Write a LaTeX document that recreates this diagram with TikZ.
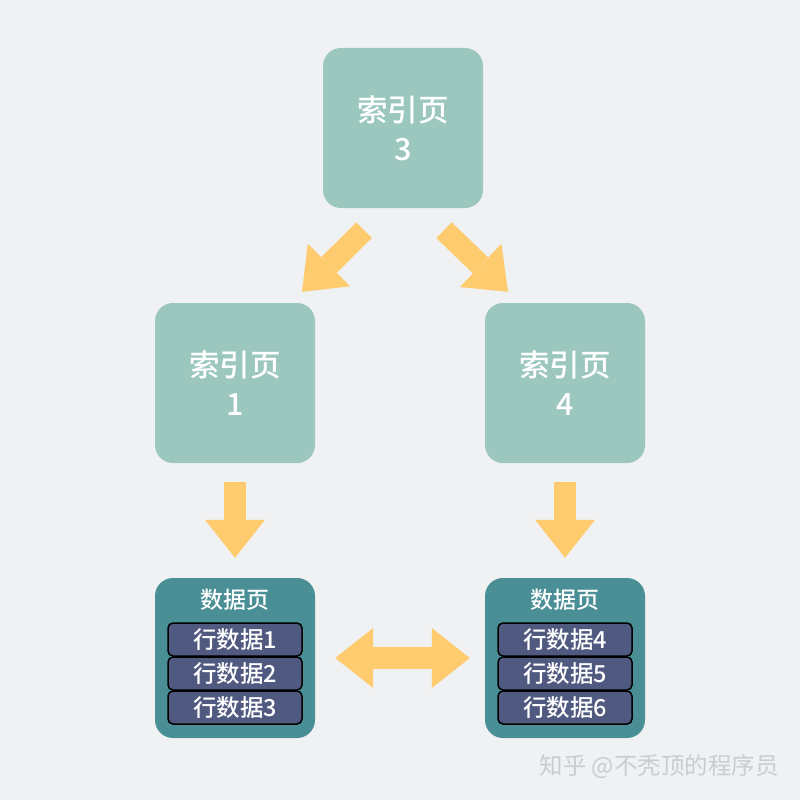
\documentclass[tikz,border=0pt]{standalone}
\usepackage{fontspec}
\setmainfont{Noto Sans CJK SC}[UprightFont={* Medium}]
\newfontfamily\wmfont{Noto Sans CJK SC}
\usetikzlibrary{arrows.meta}
\definecolor{bg}{HTML}{F0F1F3}
\definecolor{idxc}{HTML}{9BC7BF}
\definecolor{dpc}{HTML}{4A8F96}
\definecolor{rowc}{HTML}{505A80}
\definecolor{yel}{HTML}{FECC6E}
\definecolor{wmc}{HTML}{CBCCCE}
\begin{document}
\begin{tikzpicture}[x=1pt,y=-1pt,
  idx/.style={fill=idxc, rounded corners=18pt, minimum width=160pt, minimum height=160pt,
    text=white, font=\fontsize{30.5}{39}\selectfont, align=center, inner sep=0pt},
  dpage/.style={fill=dpc, rounded corners=18pt, minimum width=160pt, minimum height=160pt, inner sep=0pt},
  dtitle/.style={text=white, font=\fontsize{23}{26}\selectfont, inner sep=0pt},
  rowbox/.style={fill=rowc, draw=black, line width=1.5pt, rounded corners=5pt,
    minimum width=134pt, minimum height=33pt, text=white, font=\fontsize{23.5}{26}\selectfont, inner sep=0pt},
  tipa/.tip={Triangle[width=60pt,length=38pt,line width=0pt]},
  fat/.style={draw=yel, line width=22pt, -tipa},
  fatboth/.style={draw=yel, line width=22pt, tipa-tipa}
]
\fill[bg] (0,0) rectangle (800,800);
\useasboundingbox (0,0) rectangle (800,800);

\node[idx] (i3) at (403,128) {索引页\\3};
\node[idx] (i1) at (235,383) {索引页\\1};
\node[idx] (i4) at (565,383) {索引页\\4};

\node[dpage] (d1) at (235,658) {};
\node[dpage] (d2) at (565,658) {};
\node[dtitle] (t1) at (235,600) {数据页};
\node[dtitle] (t2) at (565,600) {数据页};
\node[rowbox] (r1) at (235,639.5) {行数据1};
\node[rowbox] (r2) at (235,673.5) {行数据2};
\node[rowbox] (r3) at (235,707.5) {行数据3};
\node[rowbox] (r4) at (565,639.5) {行数据4};
\node[rowbox] (r5) at (565,673.5) {行数据5};
\node[rowbox] (r6) at (565,707.5) {行数据6};

\draw[fat] ([shift={(-39,22)}]i3.south) -- ([shift={(67,-11)}]i1.north);
\draw[fat] ([shift={(41,22)}]i3.south) -- ([shift={(-57,-11)}]i4.north);
\draw[fat] ([yshift=-19pt]i1.south) -- ([yshift=20pt]d1.north);
\draw[fat] ([yshift=-19pt]i4.south) -- ([yshift=20pt]d2.north);
\draw[fatboth] ([xshift=20pt]d1.east) -- ([xshift=-15pt]d2.west);

\node[text=wmc, font=\wmfont\fontsize{23.5}{26}\selectfont, inner sep=0pt] (wm) at (659,767) {知乎 @不秃顶的程序员};
\end{tikzpicture}
\end{document}
